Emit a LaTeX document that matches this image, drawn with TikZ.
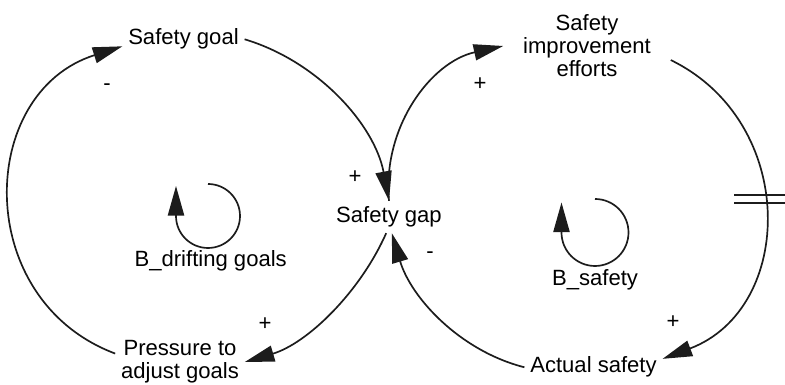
\documentclass[tikz,border=0pt]{standalone}
\usepackage{fontspec}
\setmainfont{Liberation Sans}
\usetikzlibrary{arrows.meta, positioning, calc}
\definecolor{linkgray}{HTML}{1C1C1C}
\newcommand{\cldfont}{\fontsize{15.7}{16.4}\selectfont}

\begin{document}
\begin{tikzpicture}[
    x=0.025cm, y=0.025cm,
    >={Triangle[length=21pt, width=11.5pt]},
    var/.style={inner sep=4pt, font=\cldfont, align=center},
    link/.style={->, line width=1.2pt, color=linkgray},
    sign/.style={font=\cldfont, inner sep=0pt},
    loopname/.style={font=\cldfont, anchor=base},
]
\useasboundingbox (0,0) rectangle (785,385);

% Variables
\node[var, anchor=base] (goal) at (183.5, 340) {Safety goal};
\node[var, anchor=base] (gap) at (389, 162.3) {Safety gap};
\node[var, inner xsep=14pt] (improve) at (587, 339) {Safety\\improvement\\efforts};
\node[var] (pressure) at (180, 23) {Pressure to\\adjust goals};
\node[var, anchor=base] (actual) at (593.5, 12) {Actual safety};

% Loop B_drifting goals
\draw[link] (goal.east) .. controls +(-16.7:77) and +(100.7:77) .. (gap.north);
\draw[link] ([xshift=-2pt]gap.south) .. controls +(-113.9:65) and +(16.5:65) .. (pressure.east);
\draw[link] ([yshift=6pt]pressure.west) .. controls +(159.4:153) and +(197.6:153) .. ([yshift=-5pt]goal.west);

% Loop B_safety
\draw[link] (gap.north) .. controls +(95.3:74) and +(192.4:74) .. (improve.west);
\draw[link] ([yshift=-10pt]improve.east) .. controls +(-26:142) and +(20.7:142) .. ([yshift=6pt]actual.east);
\draw[link] (actual.west) .. controls +(165.7:67) and +(-73.5:67) .. ([xshift=2pt]gap.south);

% Delay mark
\draw[line width=1.2pt, color=linkgray] (734,190) -- (792,190) (734,182) -- (792,182);

% Loop markers
\draw[link] (208,201) arc[start angle=90, end angle=-180, radius=32] -- ++(0,30);
\node[loopname] (bdrift) at (210.7, 118) {B\_drifting goals};
\draw[link] (595,186) arc[start angle=90, end angle=-180, radius=33.5] -- ++(0,30);
\node[loopname] (bsafe) at (595, 99) {B\_safety};

% Polarities
\foreach \x/\y/\s in {107/298/-, 355/208/+, 480/301/+, 265/61/+, 430/130/-, 673/63/+} {
    \node[sign] (pol-\x) at (\x, \y) {\s};
}

\end{tikzpicture}
\end{document}
